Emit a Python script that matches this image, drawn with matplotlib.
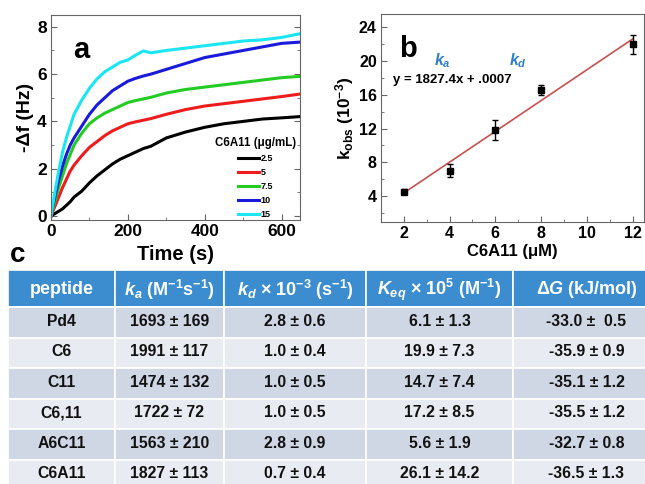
import matplotlib
matplotlib.use("Agg")
import matplotlib.pyplot as plt
from matplotlib.patches import Rectangle
from matplotlib.ticker import MultipleLocator
import numpy as np

plt.rcParams['font.family'] = ['Liberation Sans', 'DejaVu Sans']
plt.rcParams['font.weight'] = 'bold'
plt.rcParams['axes.labelweight'] = 'bold'
plt.rcParams['mathtext.fontset'] = 'custom'
plt.rcParams['mathtext.rm'] = 'Liberation Sans:bold'
plt.rcParams['mathtext.it'] = 'Liberation Sans:italic:bold'
plt.rcParams['mathtext.bf'] = 'Liberation Sans:bold'

# ---------------- data: panel a ----------------
time_s = [0, 10, 20, 30, 40, 50, 60, 80, 100, 120, 140, 160, 180, 200, 220, 240, 260,
          300, 350, 400, 450, 500, 550, 600, 645]
df_2p5 = [0, 0.1, 0.2, 0.3, 0.45, 0.6, 0.8, 1.05, 1.4, 1.7, 1.95, 2.2, 2.4, 2.55,
          2.7, 2.85, 2.95, 3.3, 3.55, 3.75, 3.9, 4.0, 4.1, 4.15, 4.2]
df_5 = [0, 0.4, 0.8, 1.2, 1.55, 1.9, 2.15, 2.55, 2.9, 3.15, 3.4, 3.6, 3.75, 3.9,
        3.98, 4.05, 4.12, 4.3, 4.5, 4.65, 4.75, 4.85, 4.95, 5.05, 5.15]
df_7p5 = [0, 0.6, 1.2, 1.7, 2.2, 2.6, 3.0, 3.5, 3.9, 4.15, 4.35, 4.5, 4.65, 4.8,
          4.88, 4.95, 5.02, 5.2, 5.35, 5.45, 5.55, 5.65, 5.75, 5.85, 5.9]
df_10 = [0, 0.8, 1.5, 2.1, 2.6, 3.0, 3.3, 3.8, 4.3, 4.7, 5.0, 5.3, 5.5, 5.7,
         5.82, 5.92, 6.0, 6.2, 6.45, 6.7, 6.85, 7.0, 7.15, 7.3, 7.35]
df_15 = [0, 1.0, 1.9, 2.7, 3.3, 3.8, 4.3, 4.9, 5.4, 5.8, 6.1, 6.3, 6.5, 6.6,
         6.8, 6.98, 6.9, 7.0, 7.1, 7.2, 7.3, 7.4, 7.45, 7.55, 7.7]
conc_labels = ['2.5', '5', '7.5', '10', '15']
series_a = [df_2p5, df_5, df_7p5, df_10, df_15]
colors_a = ['black', '#ee1c1c', '#22cc22', '#1a1adc', '#19e6f0']

# ---------------- data: panel b ----------------
conc_uM = [2, 4, 6, 8, 12]
kobs = [4.5, 7.0, 11.8, 16.6, 22.0]
kobs_err = [0.3, 0.8, 1.2, 0.6, 1.1]
fit_slope = 1827.4      # M^-1 s^-1
fit_intercept = 0.0007  # s^-1

# ---------------- data: table c ----------------
headers = ['peptide', r'$k_a$ (M$^{-1}$s$^{-1}$)', r'$k_d$ × 10$^{-3}$ (s$^{-1}$)',
           r'$K_{eq}$ × 10$^5$ (M$^{-1}$)', r'Δ$G$ (kJ/mol)']
peptides = ['Pd4', 'C6', 'C11', 'C6,11', 'A6C11', 'C6A11']
ka_col = ['1693 ± 169', '1991 ± 117', '1474 ± 132', '1722 ± 72', '1563 ± 210', '1827 ± 113']
kd_col = ['2.8 ± 0.6', '1.0 ± 0.4', '1.0 ± 0.5', '1.0 ± 0.5', '2.8 ± 0.9', '0.7 ± 0.4']
keq_col = ['6.1 ± 1.3', '19.9 ± 7.3', '14.7 ± 7.4', '17.2 ± 8.5', '5.6 ± 1.9', '26.1 ± 14.2']
dg_col = ['-33.0 ±  0.5', '-35.9 ± 0.9', '-35.1 ± 1.2', '-35.5 ± 1.2', '-32.7 ± 0.8', '-36.5 ± 1.3']

W, H = 645, 484
fig = plt.figure(figsize=(W / 100, H / 100), dpi=100)

def frac(l, t, r, b):
    return [l / W, 1 - b / H, (r - l) / W, (b - t) / H]

spine_col = '#666666'

# ---------------- panel a ----------------
axa = fig.add_axes(frac(51, 15, 300, 220))
for ys, c, lab in zip(series_a, colors_a, conc_labels):
    axa.plot(time_s, ys, color=c, lw=2.2, label=lab)
axa.set_xlim(0, 648)
axa.set_ylim(-0.17, 8.5)
axa.xaxis.set_major_locator(MultipleLocator(200))
axa.xaxis.set_minor_locator(MultipleLocator(100))
axa.yaxis.set_major_locator(MultipleLocator(2))
axa.yaxis.set_minor_locator(MultipleLocator(1))
axa.tick_params(which='both', direction='in', right=True, top=False, colors=spine_col,
                labelcolor='black', labelsize=12.5, pad=3)
axa.tick_params(which='major', length=4)
axa.tick_params(which='minor', length=2)
for s in axa.spines.values():
    s.set_color(spine_col)
    s.set_linewidth(0.8)
axa.set_xlabel('Time (s)', fontsize=14.5, labelpad=4)
axa.set_ylabel('-Δf (Hz)', fontsize=14, labelpad=2)
axa.text(0.09, 0.83, 'a', transform=axa.transAxes, fontsize=21, fontweight='bold',
         ha='left', va='center')
leg = axa.legend(title='C6A11 (μg/mL)', loc='upper right', bbox_to_anchor=(0.985, 0.405),
                 frameon=False, fontsize=6.5, title_fontsize=8.3, handlelength=2.3,
                 handletextpad=0.2, labelspacing=0.55, borderpad=0, borderaxespad=0)
leg.get_title().set_fontweight('bold')

# ---------------- panel b ----------------
axb = fig.add_axes(frac(381, 14, 644, 222))
xs = np.array([conc_uM[0], conc_uM[-1]], dtype=float)
fit = (fit_slope * xs * 1e-6 + fit_intercept) * 1e3
axb.plot(xs, fit, color='#c8504f', lw=1.2, zorder=1)
axb.errorbar(conc_uM, kobs, yerr=kobs_err, fmt='s', color='black', ms=4,
             capsize=2.5, elinewidth=1, capthick=1, zorder=2)
axb.set_xlim(1.0, 12.5)
axb.set_ylim(0.9, 25.6)
axb.xaxis.set_major_locator(MultipleLocator(2))
axb.xaxis.set_minor_locator(MultipleLocator(1))
axb.yaxis.set_major_locator(MultipleLocator(4))
axb.yaxis.set_minor_locator(MultipleLocator(2))
axb.tick_params(which='both', direction='in', colors=spine_col, labelcolor='black',
                labelsize=11.5, pad=3)
axb.tick_params(which='major', length=4)
axb.tick_params(which='minor', length=2)
for s in axb.spines.values():
    s.set_color(spine_col)
    s.set_linewidth(0.8)
axb.set_xlabel('C6A11 (μM)', fontsize=12, labelpad=2)
axb.set_ylabel(r'k$_{\mathrm{obs}}$ (10$^{-3}$)', fontsize=12.5, labelpad=2)
axb.text(0.07, 0.83, 'b', transform=axb.transAxes, fontsize=21, fontweight='bold',
         ha='left', va='center')
axb.text(0.045, 0.683, 'y = 1827.4x + .0007', transform=axb.transAxes, fontsize=9.5,
         fontweight='bold', ha='left', va='center')
axb.text(0.235, 0.775, r'$k_a$', transform=axb.transAxes, fontsize=11.5, color='#2f7fc8',
         ha='center', va='center')
axb.text(0.52, 0.775, r'$k_d$', transform=axb.transAxes, fontsize=11.5, color='#2f7fc8',
         ha='center', va='center')

# ---------------- panel c (table) ----------------
fig.text(10 / W, 1 - 255 / H, 'c', fontsize=20, fontweight='bold', ha='left', va='center')
tax = fig.add_axes([0, 0, 1, (H - 270) / H])
tax.set_xlim(0, W)
tax.set_ylim(H - 270, 0)
tax.axis('off')
col_edges = [8, 115, 224, 366, 513, 660]
header_h = 37
row_h = 30.5
header_col = '#3b8dcf'
row_cols = ['#cfd6e4', '#e8ebf1']
columns = [peptides, ka_col, kd_col, keq_col, dg_col]
for j, head in enumerate(headers):
    x0, x1 = col_edges[j], col_edges[j + 1]
    tax.add_patch(Rectangle((x0, 0), x1 - x0, header_h, facecolor=header_col,
                            edgecolor='white', lw=1.2))
    tax.text((x0 + x1) / 2, header_h / 2 + 1, head, color='white', fontsize=13,
             fontweight='bold', ha='center', va='center')
    for i, val in enumerate(columns[j]):
        y0 = header_h + i * row_h
        tax.add_patch(Rectangle((x0, y0), x1 - x0, row_h, facecolor=row_cols[i % 2],
                                edgecolor='white', lw=1.2))
        tax.text((x0 + x1) / 2, y0 + row_h / 2 - 1, val, color='#111111', fontsize=11.3,
                 fontweight='bold', ha='center', va='center')

fig.savefig('out.png', dpi=100)
